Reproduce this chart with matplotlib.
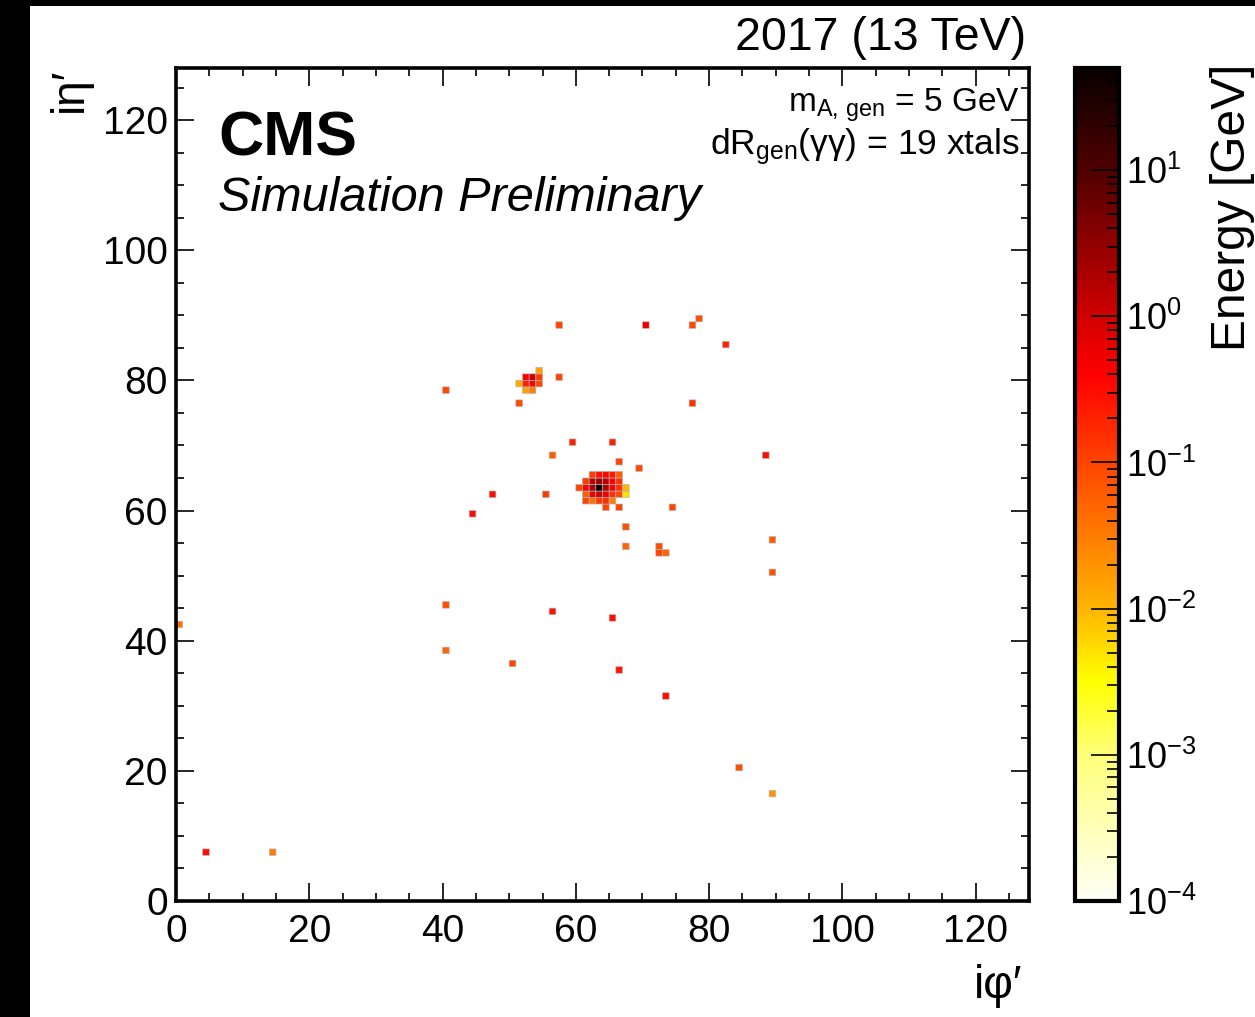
import numpy as np
import matplotlib
matplotlib.use("Agg")
import matplotlib.pyplot as plt
from matplotlib.colors import LinearSegmentedColormap, LogNorm
from matplotlib.patches import Rectangle
from matplotlib.ticker import MultipleLocator, LogLocator, NullFormatter

plt.rcParams['font.family'] = ['Liberation Sans', 'DejaVu Sans']
plt.rcParams['mathtext.fontset'] = 'custom'
plt.rcParams['mathtext.rm'] = 'Liberation Sans'
plt.rcParams['mathtext.it'] = 'Liberation Sans:italic'
plt.rcParams['mathtext.bf'] = 'Liberation Sans:bold'

# crystal hits: i-phi', i-eta' and deposited energy [GeV]
# main photon cluster
clus1_iphi = [62, 63, 64, 65, 66,
              61, 62, 63, 64, 65, 66,
              60, 61, 62, 63, 64, 65, 66, 67,
              61, 62, 63, 64, 65, 66, 67,
              61, 62, 63, 64, 65,
              64, 66]
clus1_ieta = [65, 65, 65, 65, 65,
              64, 64, 64, 64, 64, 64,
              63, 63, 63, 63, 63, 63, 63, 63,
              62, 62, 62, 62, 62, 62, 62,
              61, 61, 61, 61, 61,
              60, 60]
clus1_energy = [0.12, 0.3, 0.35, 0.25, 0.06,
                0.12, 1.5, 2.5, 1.5, 0.4, 0.15,
                0.1, 0.4, 2.0, 50.0, 1.8, 0.4, 0.15, 0.01,
                0.06, 0.5, 1.0, 0.5, 0.15, 0.1, 0.005,
                0.1, 0.04, 0.12, 0.15, 0.03,
                0.1, 0.1]

# second (smaller) cluster
clus2_iphi = [54, 52, 53, 54, 51, 52, 53, 54, 52, 53]
clus2_ieta = [81, 80, 80, 80, 79, 79, 79, 79, 78, 78]
clus2_energy = [0.015, 0.4, 1.2, 0.12, 0.012, 0.2, 0.4, 0.1, 0.015, 0.03]

# isolated noise hits
iso_iphi = [0, 4, 14, 40, 40, 40, 44, 47, 50, 51, 55, 56, 56, 57, 57, 59,
            65, 65, 66, 66, 67, 67, 69, 70, 72, 72, 73, 73, 74, 77, 77, 78,
            82, 84, 88, 89, 89, 89]
iso_ieta = [42, 7, 7, 78, 45, 38, 59, 62, 36, 76, 62, 68, 44, 88, 80, 70,
            70, 43, 67, 35, 57, 54, 66, 88, 54, 53, 53, 31, 60, 76, 88, 89,
            85, 20, 68, 55, 50, 16]
iso_energy = [0.04, 0.3, 0.03, 0.1, 0.08, 0.05, 0.3, 0.3, 0.1, 0.09, 0.12,
              0.06, 0.3, 0.1, 0.1, 0.2, 0.2, 0.3, 0.1, 0.25, 0.08, 0.05, 0.09,
              0.6, 0.08, 0.1, 0.05, 0.3, 0.1, 0.15, 0.1, 0.08, 0.2, 0.08, 0.3,
              0.06, 0.08, 0.02]

iphi = clus1_iphi + clus2_iphi + iso_iphi
ieta = clus1_ieta + clus2_ieta + iso_ieta
energy = clus1_energy + clus2_energy + iso_energy

grid = np.zeros((128, 128))
for i, j, e in zip(iphi, ieta, energy):
    grid[j, i] = e
grid = np.ma.masked_where(grid <= 0, grid)

# white -> yellow -> orange -> red -> black, placed on a log scale
vmin, vmax = 1e-4, 50.0
lo, hi = np.log10(vmin), np.log10(vmax)
stops = [(-4.0, '#fffff6'), (-3.0, '#ffff78'), (-2.5, '#ffff00'),
         (-2.0, '#ffb400'), (-1.0, '#ff4400'), (-0.4, '#ff0000'),
         (0.0, '#d20000'), (1.0, '#500000'), (hi, '#080000')]
cmap = LinearSegmentedColormap.from_list(
    'cms_hot', [((v - lo) / (hi - lo), c) for v, c in stops])

W, H = 1255, 1017
fig = plt.figure(figsize=(W / 100, H / 100), dpi=100, facecolor='black')
fig.add_artist(Rectangle((30 / W, 0), 1, (H - 6) / H, transform=fig.transFigure,
                         facecolor='white', edgecolor='none', zorder=-10))

ax = fig.add_axes([176 / W, 116 / H, 853 / W, 833 / H])
edges = np.arange(129)
mesh = ax.pcolor(edges, edges, grid, cmap=cmap, norm=LogNorm(vmin, vmax),
                 edgecolors='#b4b4b4', linewidth=0.45)
ax.set_xlim(0, 128)
ax.set_ylim(0, 128)
for s in ax.spines.values():
    s.set_linewidth(2.6)
ax.xaxis.set_major_locator(MultipleLocator(20))
ax.xaxis.set_minor_locator(MultipleLocator(5))
ax.yaxis.set_major_locator(MultipleLocator(20))
ax.yaxis.set_minor_locator(MultipleLocator(5))
ax.tick_params(which='both', direction='in', top=True, right=True,
               labelsize=28, width=1.2)
ax.tick_params(which='major', length=13)
ax.tick_params(which='minor', length=6)
ax.tick_params(axis='x', pad=9)
ax.tick_params(axis='y', pad=6)

cax = fig.add_axes([1075 / W, 116 / H, 44 / W, 833 / H])
cb = fig.colorbar(mesh, cax=cax)
cb.outline.set_linewidth(3)
cax.yaxis.set_major_locator(LogLocator(base=10, numticks=10))
cax.yaxis.set_minor_locator(LogLocator(base=10, subs=np.arange(2, 10), numticks=20))
cax.yaxis.set_minor_formatter(NullFormatter())
cax.tick_params(which='both', direction='in', right=True, left=False,
                labelsize=26, width=1.2, pad=5)
cax.tick_params(which='major', length=20)
cax.tick_params(which='minor', length=9)

# labels and annotations
fig.text(1022 / W, 1 - 998 / H, 'iφ′', ha='right', va='baseline', fontsize=33)
fig.text(92 / W, 1 - 68 / H, 'iη′', rotation=90, ha='right', va='top', fontsize=33)
fig.text(1210 / W, 1 - 64 / H, 'Energy [GeV]', rotation=90, ha='left', va='top',
         fontsize=34.5)
fig.text(1026 / W, 1 - 50 / H, '2017 (13 TeV)', ha='right', va='baseline',
         fontsize=33.5)
fig.text(218 / W, 1 - 155 / H, 'CMS', ha='left', va='baseline', fontsize=45,
         fontweight='bold')
fig.text(218 / W, 1 - 211 / H, 'Simulation Preliminary', ha='left', va='baseline',
         fontsize=35, style='italic')
fig.text(1020 / W, 1 - 112 / H, r'm$_{\mathregular{A,\,gen}}$ = 5 GeV',
         ha='right', va='baseline', fontsize=24)
fig.text(1020 / W, 1 - 154 / H, r'dR$_{\mathregular{gen}}$(γγ) = 19 xtals',
         ha='right', va='baseline', fontsize=25.5)

fig.savefig('out.png', dpi=100)
